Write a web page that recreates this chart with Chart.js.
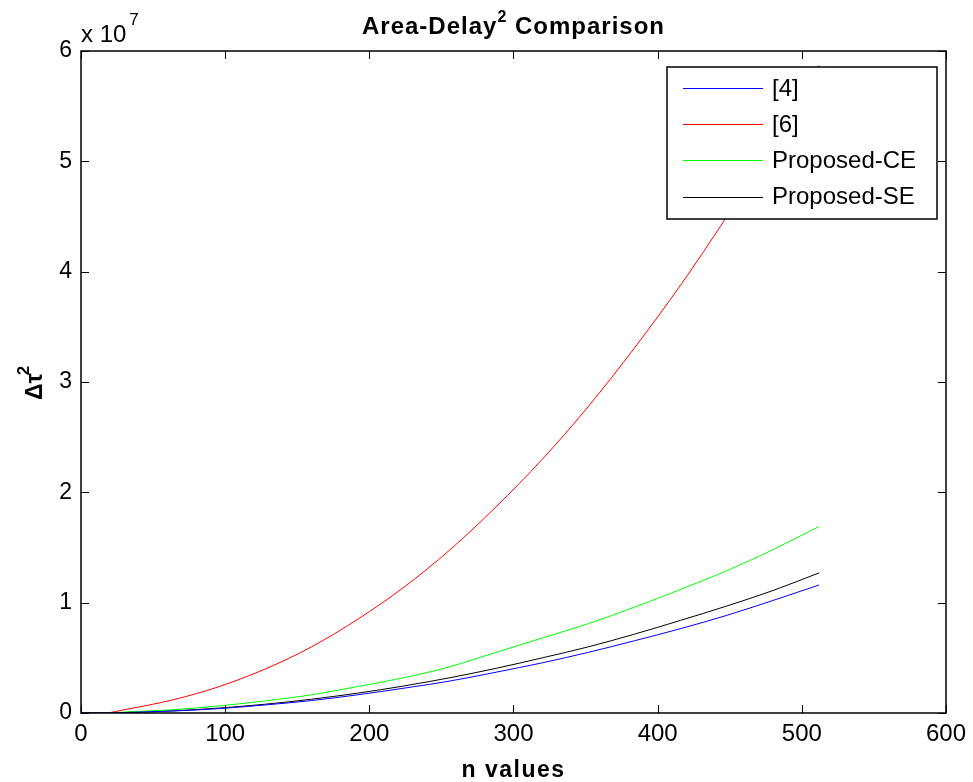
<!DOCTYPE html>
<html>
<head>
<meta charset="utf-8">
<script src="https://cdn.jsdelivr.net/npm/chart.js@4/dist/chart.umd.min.js"></script>
<style>
  html, body { margin: 0; padding: 0; background: #fff; }
  #wrap { width: 973px; height: 782px; }
</style>
</head>
<body>
<div id="wrap"><canvas id="chart" width="973" height="782"></canvas></div>
<script>
// --- DATA (y values in units of 10^7) ---
const nValues = [0, 16, 32, 64, 96, 128, 160, 192, 224, 256, 288, 320, 352, 384, 416, 448, 480, 512];
const ref4 = [0, 0, 0.005, 0.018, 0.04, 0.073, 0.113, 0.165, 0.225, 0.29, 0.37, 0.455, 0.55, 0.655, 0.765, 0.885, 1.02, 1.16];
const ref6 = [0, 0, 0.035, 0.12, 0.24, 0.40, 0.60, 0.85, 1.14, 1.48, 1.87, 2.30, 2.78, 3.31, 3.88, 4.50, 5.16, 5.87];
const proposedCE = [0, 0, 0.01, 0.03, 0.065, 0.11, 0.165, 0.24, 0.32, 0.42, 0.55, 0.68, 0.81, 0.96, 1.12, 1.29, 1.48, 1.69];
const proposedSE = [0, 0, 0.005, 0.02, 0.045, 0.08, 0.125, 0.18, 0.245, 0.32, 0.405, 0.50, 0.60, 0.715, 0.84, 0.97, 1.11, 1.27];
const seriesLabels = ['[4]', '[6]', 'Proposed-CE', 'Proposed-SE'];
const seriesColors = ['#0000ff', '#ff0000', '#00ff00', '#000000'];
const xTicks = [0, 100, 200, 300, 400, 500, 600];
const yTicks = [0, 1, 2, 3, 4, 5, 6];

const FONT = '"Liberation Sans", Arial, sans-serif';

function toPoints(arr) {
    return nValues.map((n, i) => ({ x: n, y: arr[i] }));
}

// --- MATLAB-ish frame, inner ticks, legend and texts ---
const matlabPlugin = {
    id: 'matlab',
    afterDatasetsDraw(chart) {
        const { ctx, chartArea: a, scales } = chart;
        ctx.save();
        ctx.strokeStyle = '#000';
        ctx.lineWidth = 1;
        const tl = 8;
        ctx.beginPath();
        xTicks.forEach(v => {
            const px = Math.round(scales.x.getPixelForValue(v)) + 0.5;
            ctx.moveTo(px, a.bottom); ctx.lineTo(px, a.bottom - tl);
            ctx.moveTo(px, a.top); ctx.lineTo(px, a.top + tl);
        });
        yTicks.forEach(v => {
            const py = Math.round(scales.y.getPixelForValue(v)) + 0.5;
            ctx.moveTo(a.left, py); ctx.lineTo(a.left + tl, py);
            ctx.moveTo(a.right, py); ctx.lineTo(a.right - tl, py);
        });
        ctx.stroke();

        // box
        ctx.lineWidth = 1.5;
        ctx.strokeRect(a.left, a.top, a.right - a.left, a.bottom - a.top);

        // legend
        const lx = 667, ly = 67, lw = 270, lh = 152;
        ctx.fillStyle = '#fff';
        ctx.fillRect(lx, ly, lw, lh);
        ctx.strokeStyle = '#000';
        ctx.lineWidth = 1.5;
        ctx.strokeRect(lx, ly, lw, lh);
        ctx.font = '24px ' + FONT;
        ctx.textBaseline = 'middle';
        ctx.textAlign = 'left';
        seriesLabels.forEach((label, i) => {
            const y = ly + 21 + i * 36.2;
            ctx.strokeStyle = seriesColors[i];
            ctx.lineWidth = 1;
            ctx.beginPath();
            ctx.moveTo(683, Math.round(y) + 0.5); ctx.lineTo(763, Math.round(y) + 0.5);
            ctx.stroke();
            ctx.fillStyle = '#000';
            ctx.fillText(label, 772, y + 1);
        });

        // title with superscript
        ctx.fillStyle = '#000';
        ctx.textBaseline = 'alphabetic';
        const cx = (a.left + a.right) / 2;
        const t1 = 'Area-Delay', t2 = '2', t3 = ' Comparison';
        ctx.letterSpacing = '1px';
        ctx.font = 'bold 24px ' + FONT;
        const w1 = ctx.measureText(t1).width, w3 = ctx.measureText(t3).width;
        ctx.font = 'bold 16px ' + FONT;
        const w2 = ctx.measureText(t2).width;
        let x0 = cx - (w1 + w2 + w3) / 2;
        ctx.font = 'bold 24px ' + FONT;
        ctx.fillText(t1, x0, 34);
        ctx.font = 'bold 16px ' + FONT;
        ctx.fillText(t2, x0 + w1, 22);
        ctx.font = 'bold 24px ' + FONT;
        ctx.fillText(t3, x0 + w1 + w2, 34);

        // x title
        ctx.letterSpacing = '1.5px';
        ctx.font = 'bold 23px ' + FONT;
        ctx.textAlign = 'center';
        ctx.fillText('n values', cx, 777);
        ctx.letterSpacing = '0px';

        // exponent label
        ctx.textAlign = 'left';
        ctx.font = '24px ' + FONT;
        ctx.fillText('x 10', 81, 42);
        const we = ctx.measureText('x 10').width;
        ctx.font = '17px ' + FONT;
        ctx.fillText('7', 81 + we + 3, 25);

        // y title (rotated)
        ctx.save();
        ctx.translate(42, 386);
        ctx.rotate(-Math.PI / 2);
        ctx.font = 'bold 23px ' + FONT;
        ctx.textAlign = 'left';
        ctx.fillText('\u0394\u03c4', -14, 0);
        const wy = ctx.measureText('\u0394\u03c4').width;
        ctx.font = 'bold 17px ' + FONT;
        ctx.fillText('2', -14 + wy - 2, -13);
        ctx.restore();

        ctx.restore();
    }
};

new Chart(document.getElementById('chart'), {
    type: 'line',
    data: {
        datasets: [ref4, ref6, proposedCE, proposedSE].map((arr, i) => ({
            label: seriesLabels[i],
            data: toPoints(arr),
            borderColor: seriesColors[i],
            backgroundColor: seriesColors[i],
            borderWidth: 1,
            pointRadius: 0,
            cubicInterpolationMode: 'monotone',
            fill: false
        }))
    },
    options: {
        responsive: false,
        animation: false,
        layout: { padding: { top: 51, right: 24, left: 0, bottom: 0 } },
        plugins: { legend: { display: false }, tooltip: { enabled: false } },
        scales: {
            x: {
                type: 'linear',
                min: 0, max: 600,
                afterBuildTicks: s => { s.ticks = xTicks.map(v => ({ value: v })); },
                afterFit: s => { s.height = 69; },
                grid: { display: false, drawTicks: false },
                border: { display: false },
                ticks: { color: '#000', font: { family: FONT, size: 24 }, padding: 7, maxRotation: 0 }
            },
            y: {
                min: 0, max: 6,
                afterBuildTicks: s => { s.ticks = yTicks.map(v => ({ value: v })); },
                afterFit: s => { s.width = 81; },
                grid: { display: false, drawTicks: false },
                border: { display: false },
                ticks: { color: '#000', font: { family: FONT, size: 23 }, padding: 9 }
            }
        }
    },
    plugins: [matlabPlugin]
});
</script>
</body>
</html>
